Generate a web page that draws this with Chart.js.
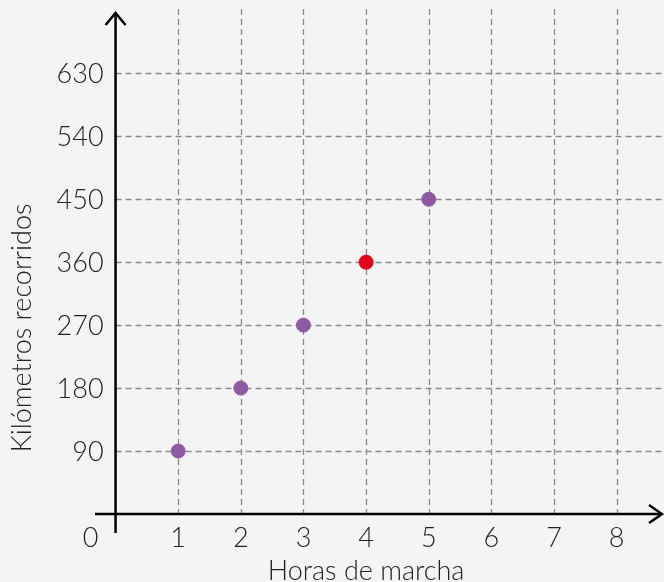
<!DOCTYPE html>
<html>
<head>
<meta charset="utf-8">
<script src="https://cdn.jsdelivr.net/npm/chart.js@4/dist/chart.umd.min.js"></script>
<style>
  html, body { margin: 0; padding: 0; background: #f4f4f4; overflow: hidden; }
</style>
</head>
<body>
<canvas id="chart" width="664" height="582"></canvas>
<script>
  // hours on the x axis, km on the y axis
  const hours = [1, 2, 3, 4, 5];
  const km = [90, 180, 270, 360, 450];
  const pointColors = ['#8e5ba3', '#8e5ba3', '#8e5ba3', '#e2001a', '#8e5ba3'];
  const xTicks = [1, 2, 3, 4, 5, 6, 7, 8];
  const yTicks = [90, 180, 270, 360, 450, 540, 630];
  const xTitle = 'Horas de marcha';
  const yTitle = 'Kilómetros recorridos';

  const FONT = 'Lato, "Open Sans", sans-serif';

  const axesPlugin = {
    id: 'axesPlugin',
    beforeDatasetsDraw(chart) {
      const ctx = chart.ctx;
      const x = chart.scales.x, y = chart.scales.y;
      const x0 = x.getPixelForValue(0), y0 = y.getPixelForValue(0);
      const top = chart.chartArea.top, right = chart.chartArea.right;

      // dashed grid
      ctx.save();
      ctx.strokeStyle = '#8a8a8a';
      ctx.lineWidth = 1.3;
      ctx.setLineDash([6, 4]);
      xTicks.forEach(v => {
        const px = Math.round(x.getPixelForValue(v)) + 0.5;
        ctx.beginPath(); ctx.moveTo(px, top); ctx.lineTo(px, y0); ctx.stroke();
      });
      yTicks.forEach(v => {
        const py = Math.round(y.getPixelForValue(v)) + 0.5;
        ctx.beginPath(); ctx.moveTo(x0, py); ctx.lineTo(right, py); ctx.stroke();
      });
      ctx.restore();

      // axes with arrows
      ctx.save();
      ctx.strokeStyle = '#000';
      ctx.lineWidth = 2.5;
      ctx.beginPath();
      ctx.moveTo(x0, chart.chartArea.bottom - 2); ctx.lineTo(x0, top + 4);
      ctx.moveTo(chart.chartArea.left + 2, y0); ctx.lineTo(right - 1, y0);
      ctx.stroke();
      ctx.beginPath();
      ctx.moveTo(x0 - 10, top + 16); ctx.lineTo(x0, top + 4); ctx.lineTo(x0 + 10, top + 16);
      ctx.moveTo(right - 14, y0 - 9); ctx.lineTo(right - 1, y0); ctx.lineTo(right - 14, y0 + 9);
      ctx.stroke();
      ctx.restore();

      // labels
      ctx.save();
      ctx.fillStyle = '#222';
      ctx.font = '300 27px ' + FONT;
      ctx.textBaseline = 'middle';
      ctx.textAlign = 'right';
      yTicks.forEach(v => ctx.fillText(String(v), x0 - 12, y.getPixelForValue(v) + 1));
      ctx.textAlign = 'center';
      xTicks.forEach(v => ctx.fillText(String(v), x.getPixelForValue(v), y0 + 24));
      ctx.fillText('0', x0 - 25, y0 + 24);
      ctx.font = '300 27px ' + FONT;
      ctx.fillText(xTitle, x.getPixelForValue(4), y0 + 57);
      ctx.translate(22, y.getPixelForValue(266));
      ctx.rotate(-Math.PI / 2);
      ctx.fillText(yTitle, 0, 0);
      ctx.restore();
    }
  };

  new Chart(document.getElementById('chart'), {
    type: 'scatter',
    data: {
      datasets: [{
        data: hours.map((h, i) => ({ x: h, y: km[i] })),
        backgroundColor: pointColors,
        borderColor: pointColors,
        pointRadius: 7,
        pointHoverRadius: 7
      }]
    },
    options: {
      responsive: false,
      animation: false,
      layout: { autoPadding: false, padding: { left: 93, right: 1, top: 9, bottom: 47 } },
      plugins: { legend: { display: false }, tooltip: { enabled: false } },
      scales: {
        x: {
          type: 'linear', min: -0.36, max: 8.74,
          display: false
        },
        y: {
          type: 'linear', min: -30, max: 722,
          display: false
        }
      }
    },
    plugins: [axesPlugin]
  });
</script>
</body>
</html>
